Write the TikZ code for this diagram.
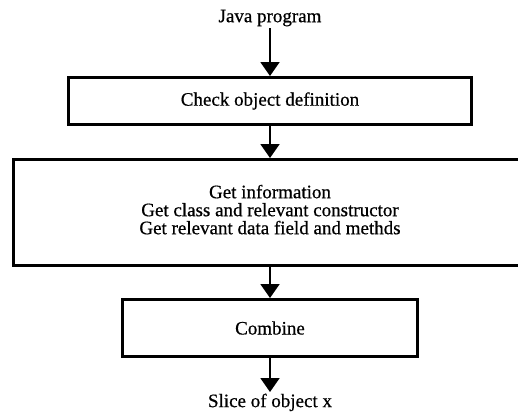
\documentclass[tikz,border=0pt]{standalone}
\usepackage{fontspec}
\setmainfont{Liberation Serif}[FakeBold=0.6]
\usetikzlibrary{positioning,arrows.meta}

\begin{document}
\begin{tikzpicture}[
  x=1pt, y=1pt,
  node distance=32pt,
  every node/.style={font=\fontsize{19}{18}\selectfont},
  stage/.style={draw, line width=3pt, align=center},
  io/.style={inner sep=1.5pt},
  flow/.style={-{Triangle[width=19pt,length=14pt]}, line width=2pt}
]
  \useasboundingbox (-270,-312) rectangle (248,101);

  \node[stage, minimum width=402pt, minimum height=47pt] (check) at (0,0) {Check object definition};
  \node[io, above=48pt of check] (java) {Java program};
  \node[stage, minimum width=513pt, minimum height=106pt, below=of check] (info)
    {Get information\\Get class and relevant constructor\\Get relevant data field and methds\\[-12pt]\mbox{}};
  \node[stage, minimum width=295pt, minimum height=57pt, below=31pt of info] (combine) {Combine};
  \node[io, below=34pt of combine] (slice) {Slice of object x};

  \draw[flow] (java)    -- (check);
  \draw[flow] (check)   -- (info);
  \draw[flow] (info)    -- (combine);
  \draw[flow] (combine) -- (slice);
\end{tikzpicture}
\end{document}
